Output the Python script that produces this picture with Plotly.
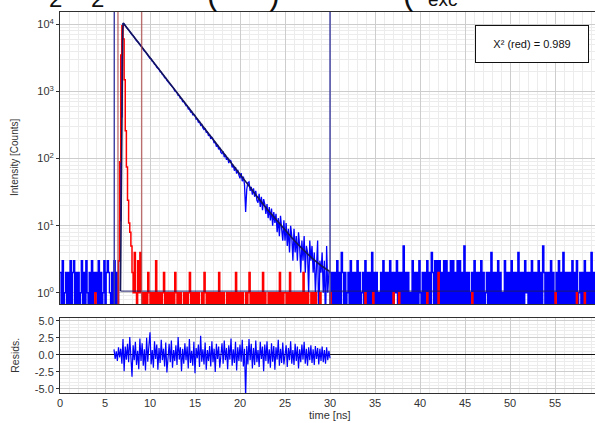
import numpy as np
import plotly.graph_objects as go

# ---------------------------------------------------------------- data
DT = 0.125          # channel width [ns]
N_CH = 476          # channels shown (0 ... 59.375 ns)

# Sample decay (counts per channel)
DECAY_PRE = ("2030120203" "0230202013" "0203102030" "2120302013" "0232102030" "20")
DECAY_RISE = [3, 12, 420, 5200]
DECAY_MAIN = [
    10412, 10138, 9521, 9187, 8610, 8301, 7790, 7512,
    7021, 6802, 6355, 6140, 5731, 5559, 5190, 5033,
    4790, 4452, 4321, 4012, 3905, 3641, 3530, 3288,
    3120, 3051, 2822, 2760, 2551, 2491, 2301, 2250,
    2150, 1968, 1942, 1790, 1755, 1610, 1587, 1461,
    1389, 1370, 1251, 1238, 1131, 1120, 1019, 1006,
    961, 873, 870, 790, 785, 712, 715, 648,
    618, 612, 551, 560, 498, 507, 452, 455,
    437, 388, 392, 349, 357, 314, 322, 287,
    271, 279, 246, 251, 219, 228, 197, 207,
    196, 170, 178, 151, 161, 137, 146, 124,
    119, 128, 105, 115, 96, 104, 86, 95,
    92, 74, 81, 66, 75, 60, 68, 57,
    51, 61, 46, 54, 41, 16, 35, 44,
    45, 33, 38, 29, 36, 27, 33, 24,
    22, 30, 19, 27, 17, 25, 21, 15,
    21, 13, 19, 12, 18, 10, 16, 11,
    15, 8, 13, 7, 14, 9, 6, 12,
    6, 11, 5, 9, 4, 10, 7, 3,
    9, 4, 7, 3, 8, 5, 2, 6,
    3, 7, 2, 5, 4, 1, 6, 3,
    5, 2, 4, 1, 3, 6, 0, 3,
    2, 4, 1, 3, 0, 5, 1, 2,
    2,
]
DECAY_POST = (
    "0202030204" "2020120302" "0203020120" "3020204020" "2010203020"
    "2030202130" "2020502020" "1030202031" "0202030204" "2030303020"
    "3030203030" "2030302050" "2020120302" "0203020120" "2040202030"
    "2010302020" "3020204020" "2031202030" "2020302052" "0202030201"
    "2030204020" "2020302030" "1202030202" "04020"
)

# Instrument response function (counts per channel)
IRF_PRE = ("0000000000" "0000000000" "0000000000" "0100000000" "0000000000" "00")
IRF_PEAK = [3, 90, 3500, 9600, 6100, 1500, 260, 75, 24, 11, 8, 5]
IRF_TAIL = (
    "2141031410" "1010210101" "0301010120" "1010101021" "0101001010"
    "1201010101" "0010210101" "0101010201" "0100101010" "1020101010"
    "0101201010" "1010102010" "0101010101" "020101"
    "1010201010" "1010102010" "10010101"
    "0001000000" "0010000000" "0000000000" "0000000000" "0001000000"
    "1000000000" "0000000010" "0001000000" "0000000000" "0000000010"
    "0000000020" "0000000000" "0000000000" "0000000010" "0000000000"
    "0000000000" "0000000000" "0000000000" "0000000000" "0000000000"
    "0000000000" "0010000000" "0000000000" "0100000010" "00000000"
)

# Fitted decay curve and its constant background
FIT_T = [6.72, 6.80, 6.90, 6.97, 7.03, 8, 9, 10, 11, 12, 13, 14, 15, 16, 17,
         18, 19, 20, 21, 22, 23, 24, 25, 26, 27, 28, 29, 30]
FIT_Y = [1.06, 40, 2500, 8500, 10500, 7101, 4745, 3170, 2118, 1415, 946, 632,
         422, 282, 189.5, 127, 85.2, 57.3, 38.6, 26.2, 17.8, 12.3, 8.55, 6.06,
         4.40, 3.29, 2.55, 2.06]
BACKGROUND = 1.06

# Weighted residuals, 6.0 ... 30.0 ns
RES_START = 6.0
RESID = [
    0.8, -0.6, 0.5, -0.9, 1.1, -0.4, 0.9, -1.3,
    2.3, -2.4, 1.2, -0.7, 1.6, -1.1, 2.6, -0.5,
    -3.2, 1.4, -0.8, 1.9, -1.5, 0.6, -2.1, 2.4,
    -0.9, 1.7, -1.6, 0.8, -2.3, 2.5, -1.0, 1.3,
    3.3, -1.4, 0.7, -1.9, 2.0, -0.6, 1.5, -2.2,
    1.0, -1.2, 2.2, -0.8, 0.9, -1.7, 1.8, -2.6,
    0.5, 1.6, -1.1, 2.1, -1.9, 0.7, -0.9, 1.4,
    -1.5, 2.6, -0.7, 1.1, -2.4, 0.9, -1.3, 1.7,
    -0.8, 1.2, -2.0, 2.3, -1.2, 0.6, -1.6, 1.9,
    -2.7, 1.0, -0.5, 1.5, -1.8, 2.8, -1.0, 0.8,
    -1.4, 1.8, -2.2, 0.7, -0.9, 1.3, -1.7, 2.0,
    -1.1, 0.9, -2.5, 1.6, -0.6, 1.2, -1.9, 0.5,
    1.7, -1.3, 2.1, -0.8, 1.0, -2.1, 1.4, -0.7,
    2.4, -1.6, 0.8, -1.2, 1.9, -2.3, 1.1, -0.9,
    1.5, -1.0, 2.2, -1.7, 0.9, -6.4, 1.3, -1.4,
    2.3, -0.8, 1.6, -2.0, 1.0, -1.5, 2.1, -1.1,
    0.7, -1.8, 1.9, -0.6, 1.2, -2.4, 1.5, -0.9,
    2.0, -1.3, 0.8, -1.9, 1.7, -1.0, 1.3, -2.2,
    1.1, -0.7, 2.2, -1.6, 0.9, -1.2, 1.8, -1.4,
    0.6, 1.4, -1.8, 1.0, -0.8, 2.0, -1.3, 0.7,
    -1.5, 1.6, -0.9, 1.2, -2.0, 0.8, -1.1, 1.5,
    -0.7, 1.9, -1.3, 0.9, -1.6, 1.1, -0.8, 1.4,
    -1.2, 0.8, -1.5, 1.3, -0.6, 1.0, -1.4, 0.9,
    -0.9, 1.2, -1.1, 0.7, -1.3, 1.1, -0.8, 0.6,
    -0.5,
]

# Fit-range cursors [ns]
DECAY_RANGE = [6.03, 30.0]
IRF_RANGE = [6.44, 9.07]

CHI2_RED = 0.989

# lower edge of the heading line that runs off the top of the page
HEADING_PARTS = ["2", "2", "(", ")", "(", "exc"]

# ---------------------------------------------------------------- assemble
def digits(s):
    return [int(c) for c in s]

decay = np.array(digits(DECAY_PRE) + DECAY_RISE + DECAY_MAIN + digits(DECAY_POST), float)
irf = np.array(digits(IRF_PRE) + IRF_PEAK + digits(IRF_TAIL), float)
assert len(decay) == N_CH, len(decay)
assert len(irf) == N_CH, len(irf)
t = np.arange(N_CH) * DT
t_res = RES_START + np.arange(len(RESID)) * DT

# channel ranges of the decay: flat background before/after, decaying part between
i_rise = len(DECAY_PRE) + len(DECAY_RISE) - 1
i_tail = i_rise + len(DECAY_MAIN)

# empty channels sit below the visible floor of the log axis
ZERO_LEVEL = 0.3
def on_log(c):
    return np.where(c > 0, c, ZERO_LEVEL)

X_MAX = 59.44
FONT = "Liberation Sans, Arial, Helvetica, sans-serif"
GRID_MAJ = "#cdcdcd"
GRID_MIN = "#ececec"
AX_LINE = "#303030"
BLUE = "#0000ff"
RED = "#ff0000"

fig = go.Figure()
# background channels drawn histogram-style (one flat step per channel)
for sl in (slice(0, i_rise + 1), slice(i_tail, N_CH)):
    fig.add_trace(go.Scatter(x=t[sl], y=on_log(decay[sl]), mode="lines",
                             line=dict(color=BLUE, width=1.5, shape="hv"),
                             xaxis="x", yaxis="y", hoverinfo="skip"))
fig.add_trace(go.Scatter(x=t[i_rise:i_tail + 1], y=on_log(decay[i_rise:i_tail + 1]),
                         mode="lines", line=dict(color=BLUE, width=1.3),
                         xaxis="x", yaxis="y", hoverinfo="skip"))
fig.add_trace(go.Scatter(x=t, y=on_log(irf), mode="lines",
                         line=dict(color=RED, width=1.5, shape="hv"),
                         xaxis="x", yaxis="y", hoverinfo="skip"))
fig.add_trace(go.Scatter(x=[FIT_T[0], X_MAX], y=[BACKGROUND, BACKGROUND], mode="lines",
                         line=dict(color="#1c1c6a", width=1),
                         xaxis="x", yaxis="y", hoverinfo="skip"))
fig.add_trace(go.Scatter(x=FIT_T, y=FIT_Y, mode="lines",
                         line=dict(color="#16165a", width=1.6),
                         xaxis="x", yaxis="y", hoverinfo="skip"))
fig.add_trace(go.Scatter(x=t_res, y=RESID, mode="lines",
                         line=dict(color=BLUE, width=1.2),
                         xaxis="x2", yaxis="y2", hoverinfo="skip"))

shapes = []
for xv in DECAY_RANGE:
    shapes.append(dict(type="line", xref="x", yref="y domain", x0=xv, x1=xv, y0=0, y1=1,
                       line=dict(color="#3c3ca0", width=1.4), layer="above"))
for xv in IRF_RANGE:
    shapes.append(dict(type="line", xref="x", yref="y domain", x0=xv, x1=xv, y0=0, y1=1,
                       line=dict(color="rgba(170,70,70,0.75)", width=1.4), layer="above"))

log_major = [1, 10, 100, 1000, 10000]
log_minor = [m * 10 ** e for e in range(-1, 5) for m in range(2, 10)]

tickfont = dict(family=FONT, size=11, color="#333333")

fig.update_layout(
    width=595, height=423,
    margin=dict(l=60, r=0, t=12, b=30),
    paper_bgcolor="white", plot_bgcolor="white",
    showlegend=False,
    font=dict(family=FONT, color="#333333"),
    shapes=shapes,
    xaxis=dict(domain=[0, 1], anchor="y", range=[0, X_MAX],
               tick0=0, dtick=5, showticklabels=False, ticks="",
               showgrid=True, gridcolor=GRID_MAJ, gridwidth=1,
               minor=dict(dtick=1, tick0=0, showgrid=True, gridcolor=GRID_MIN, gridwidth=1),
               showline=True, linecolor=AX_LINE, linewidth=1, mirror=True, zeroline=False),
    yaxis=dict(domain=[0.2336, 1], anchor="x", type="log", range=[-0.167, 4.186],
               tickmode="array", tickvals=log_major,
               ticktext=["10<sup>%d</sup>" % i for i in range(5)],
               ticks="outside", ticklen=3, tickcolor=AX_LINE, tickfont=tickfont,
               showgrid=True, gridcolor=GRID_MAJ, gridwidth=1,
               minor=dict(tickmode="array", tickvals=log_minor, showgrid=True,
                          gridcolor=GRID_MIN, gridwidth=1),
               showline=True, linecolor=AX_LINE, linewidth=1, zeroline=False),
    xaxis2=dict(domain=[0, 1], anchor="y2", range=[0, X_MAX],
                tick0=0, dtick=5, ticks="", tickfont=tickfont,
                showgrid=True, gridcolor=GRID_MAJ, gridwidth=1,
                minor=dict(dtick=1, tick0=0, showgrid=True, gridcolor=GRID_MIN, gridwidth=1),
                showline=True, linecolor=AX_LINE, linewidth=1, mirror=True, zeroline=False),
    yaxis2=dict(domain=[0, 0.196], anchor="x2", range=[-5.6, 5.35],
                tickmode="array", tickvals=[-5, -2.5, 0, 2.5, 5],
                ticktext=["-5.0", "-2.5", "0.0", "2.5", "5.0"],
                ticks="outside", ticklen=3, tickcolor=AX_LINE, tickfont=tickfont,
                showgrid=True, gridcolor=GRID_MAJ, gridwidth=1,
                minor=dict(dtick=0.5, tick0=0, showgrid=True, gridcolor=GRID_MIN, gridwidth=1),
                zeroline=True, zerolinecolor="#111111", zerolinewidth=1,
                showline=True, linecolor=AX_LINE, linewidth=1),
)

annotations = [
    dict(text="Intensity [Counts]", xref="paper", yref="paper",
         x=-0.084, y=0.617, xanchor="center", yanchor="middle",
         textangle=-90, showarrow=False,
         font=dict(family=FONT, size=10, color="#333333")),
    dict(text="Resids.", xref="paper", yref="paper",
         x=-0.084, y=0.098, xanchor="center", yanchor="middle",
         textangle=-90, showarrow=False,
         font=dict(family=FONT, size=10.5, color="#333333")),
    dict(text="time [ns]", xref="paper", yref="paper",
         x=0.504, y=-0.058, xanchor="center", yanchor="middle", showarrow=False,
         font=dict(family=FONT, size=11, color="#333333")),
    dict(text="X\u00b2 (red) = %.3f" % CHI2_RED, xref="paper", yref="paper",
         x=0.882, y=0.916, xanchor="center", yanchor="middle", showarrow=False,
         width=110, height=34, bgcolor="white", bordercolor="#111111", borderwidth=1,
         font=dict(family=FONT, size=11, color="#111111")),
]

# heading pieces: (left edge in paper x, bottom in paper y, font size)
heading_place = [(-0.0215, 0.9963, 24), (0.0561, 0.9963, 24),
                 (0.2729, 0.9963, 32), (0.3888, 0.9963, 32),
                 (0.6393, 0.9963, 32), (0.6869, 1.0018, 19)]
for txt, (px, py, fs) in zip(HEADING_PARTS, heading_place):
    annotations.append(dict(text=txt, xref="paper", yref="paper", x=px, y=py,
                            xanchor="left", yanchor="bottom", showarrow=False,
                            borderpad=0,
                            font=dict(family=FONT, size=fs, color="#111111")))

fig.update_layout(annotations=annotations)

fig.write_html("out.html")
